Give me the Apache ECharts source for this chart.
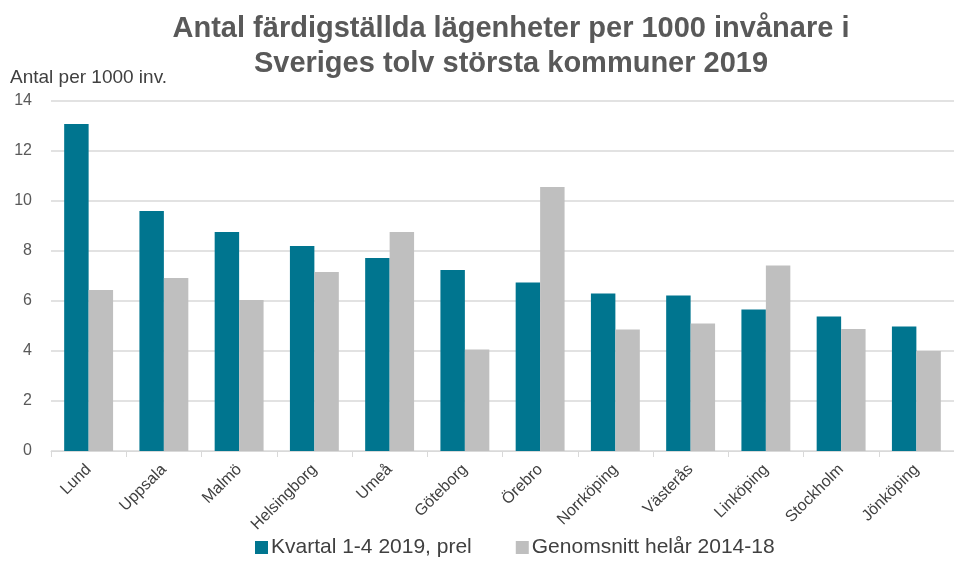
<!DOCTYPE html>
<html>
<head>
<meta charset="utf-8">
<script src="https://cdn.jsdelivr.net/npm/echarts@6/dist/echarts.min.js"></script>
<style>
    html, body { margin: 0; padding: 0; background: #fff; }
    #chart { width: 954px; height: 563px; }
</style>
</head>
<body>
<div id="chart"></div>
<script>
const kommuner = ['Lund', 'Uppsala', 'Malmö', 'Helsingborg', 'Umeå', 'Göteborg', 'Örebro',
    'Norrköping', 'Västerås', 'Linköping', 'Stockholm', 'Jönköping'];
const kvartal2019 = [13.08, 9.6, 8.76, 8.2, 7.72, 7.24, 6.74, 6.3, 6.22, 5.66, 5.38, 4.98];
const snitt2014_18 = [6.44, 6.92, 6.04, 7.16, 8.76, 4.06, 10.56, 4.86, 5.1, 7.42, 4.88, 4.0];
const yTicks = [0, 2, 4, 6, 8, 10, 12, 14];

const chart = echarts.init(document.getElementById('chart'));

const option = {
    animation: false,
    title: {
        text: 'Antal färdigställda lägenheter per 1000 invånare i\nSveriges tolv största kommuner 2019',
        left: 506,
        top: 6,
        textAlign: 'center',
        textStyle: {
            fontFamily: 'Liberation Sans',
            fontSize: 29,
            fontWeight: 'bold',
            color: '#595959',
            lineHeight: 35
        }
    },
    legend: {
        bottom: 0,
        left: 250,
        itemWidth: 13,
        itemHeight: 13,
        itemGap: 44,
        icon: 'rect',
        textStyle: {
            fontFamily: 'Liberation Sans',
            fontSize: 21,
            color: '#404040',
            padding: [0, 0, 0, -2]
        }
    },
    grid: {
        left: 51,
        right: -4,
        top: 101,
        bottom: 112
    },
    xAxis: {
        type: 'category',
        data: kommuner,
        axisLine: { lineStyle: { color: '#D9D9D9' } },
        axisTick: { show: true, length: 6, lineStyle: { color: '#D9D9D9' } },
        axisLabel: {
            rotate: 45,
            interval: 0,
            margin: 16,
            fontFamily: 'Liberation Sans',
            fontSize: 16,
            color: '#404040'
        }
    },
    yAxis: {
        type: 'value',
        min: yTicks[0],
        max: yTicks[yTicks.length - 1],
        interval: 2,
        name: 'Antal per 1000 inv.',
        nameLocation: 'end',
        nameGap: 14,
        nameTextStyle: {
            fontFamily: 'Liberation Sans',
            fontSize: 19,
            color: '#404040',
            align: 'left',
            padding: [0, 0, 0, -41]
        },
        axisLine: { show: false },
        axisTick: { show: false },
        splitLine: { lineStyle: { color: '#D9D9D9', width: 1.5 } },
        axisLabel: {
            margin: 19,
            fontFamily: 'Liberation Sans',
            fontSize: 16,
            color: '#595959'
        }
    },
    series: [
        {
            name: 'Kvartal 1-4 2019, prel',
            type: 'bar',
            data: kvartal2019,
            itemStyle: { color: '#00758F' },
            barGap: '0%',
            barCategoryGap: '35%'
        },
        {
            name: 'Genomsnitt helår 2014-18',
            type: 'bar',
            data: snitt2014_18,
            itemStyle: { color: '#BFBFBF' },
            barGap: '0%',
            barCategoryGap: '35%'
        }
    ]
};

chart.setOption(option);
</script>
</body>
</html>
